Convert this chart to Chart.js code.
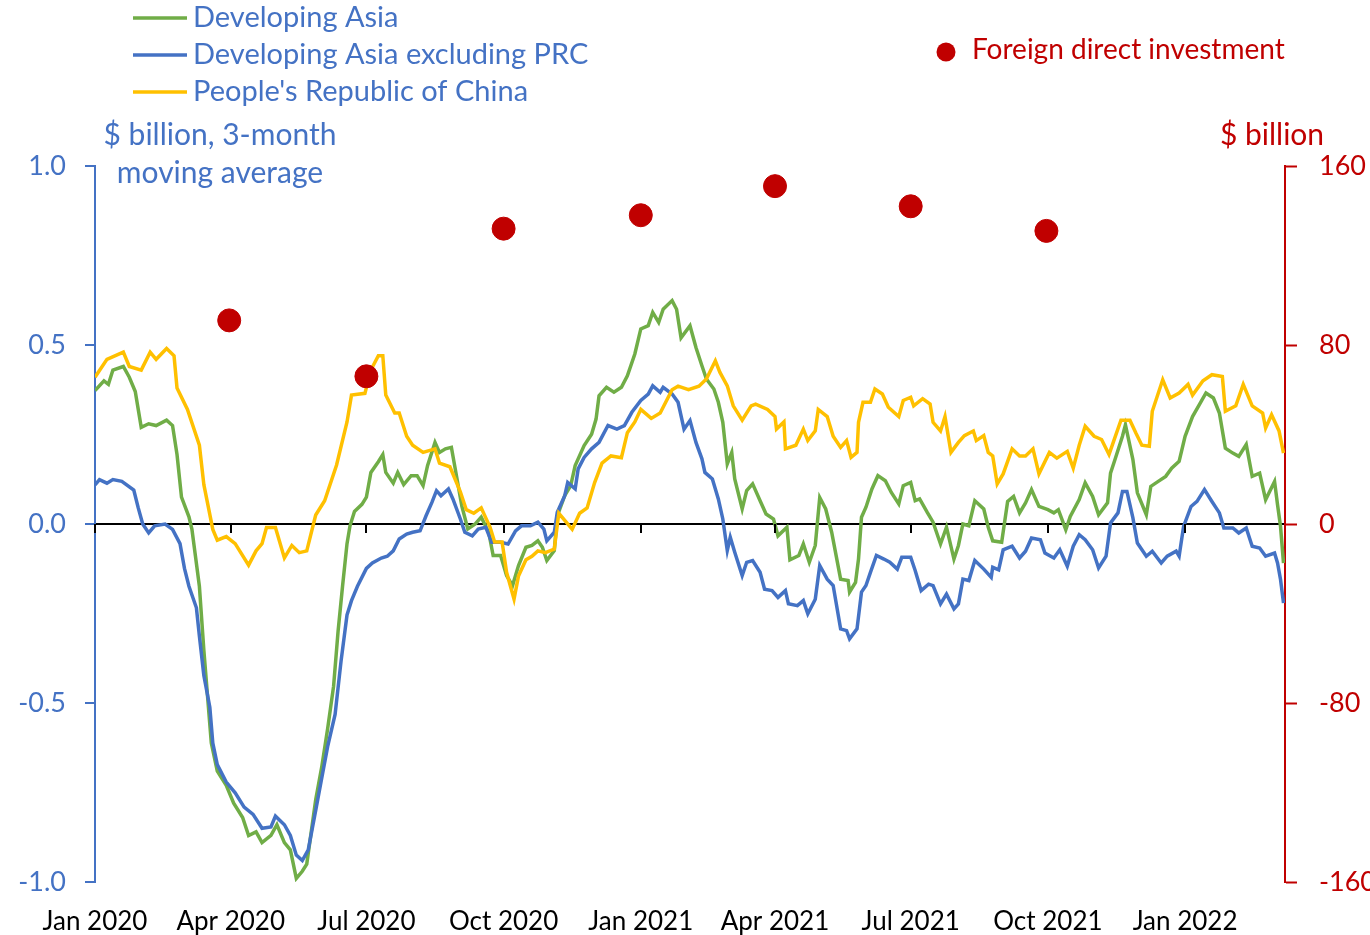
<!DOCTYPE html>
<html>
<head>
<meta charset="utf-8">
<script src="https://cdn.jsdelivr.net/npm/chart.js@4.4.1/dist/chart.umd.min.js"></script>
<style>
html, body { margin: 0; padding: 0; background: #fff; }
#wrap { width: 1370px; height: 935px; }
</style>
</head>
<body>
<div id="wrap"><canvas id="chart" width="1370" height="935"></canvas></div>
<script>
// x values are days since 1 Jan 2020
const quarterDays = [0, 91, 182, 274, 366, 456, 547, 639, 731];
const quarterLabels = ['Jan 2020', 'Apr 2020', 'Jul 2020', 'Oct 2020', 'Jan 2021', 'Apr 2021', 'Jul 2021', 'Oct 2021', 'Jan 2022'];
const leftTicks = [-1, -0.5, 0, 0.5, 1];
const rightTicks = [-160, -80, 0, 80, 160];

// Developing Asia ($ billion, 3-month moving average)
const asiaDays = [0, 6, 9, 12, 19, 23, 27, 31, 36, 41, 48, 52, 55, 58, 63, 65, 70, 73, 78, 82, 88, 93, 99, 103, 108, 112, 118, 122, 127, 131, 135, 139, 142, 148, 152, 156, 160, 163, 166, 169, 171, 174, 179, 182, 185, 190, 193, 195, 200,
  203, 207, 212, 216, 220, 223, 228, 231, 235, 239, 242, 246, 250, 255, 259, 264, 267, 272, 276, 280, 284, 289, 293, 297, 300, 303, 308, 310, 315, 319, 322, 328, 333, 336, 338, 343, 348, 353, 357, 362, 366, 371, 374, 378, 381, 387, 390, 393, 399, 403, 407,
  410, 415, 418, 421, 424, 427, 429, 434, 437, 441, 446, 450, 455, 458, 464, 466, 472, 475, 479, 483, 486, 490, 494, 500, 505, 506, 510, 512, 514, 517, 521, 525, 530, 534, 539, 542, 547, 550, 553, 558, 562, 567, 571, 576, 579, 582, 586, 590, 596, 599, 602, 608,
  612, 616, 620, 624, 628, 633, 639, 643, 646, 651, 654, 660, 664, 669, 673, 679, 681, 684, 689, 691, 696, 699, 705, 708, 713, 718, 722, 727, 731, 736, 740, 745, 750, 754, 758, 763, 767, 772, 776, 781, 785, 791, 793, 795, 797];
const asiaVals = [0.373, 0.40, 0.39, 0.43, 0.44, 0.41, 0.37, 0.27, 0.28, 0.275, 0.29, 0.275, 0.194, 0.075, 0.02, -0.015, -0.174, -0.353, -0.612, -0.69, -0.73, -0.78, -0.82, -0.87, -0.86, -0.89, -0.87, -0.84, -0.89, -0.91, -0.99, -0.97, -0.95, -0.77, -0.68, -0.572, -0.453, -0.30, -0.174, -0.055, -0.005, 0.035, 0.055, 0.075, 0.144, 0.174, 0.194, 0.144, 0.114,
  0.144, 0.11, 0.135, 0.135, 0.107, 0.163, 0.228, 0.20, 0.21, 0.214, 0.144, 0.05, -0.014, 0.0, 0.019, -0.023, -0.088, -0.088, -0.144, -0.172, -0.116, -0.065, -0.06, -0.047, -0.065, -0.102, -0.074, 0.023, 0.079, 0.107, 0.163, 0.219, 0.251, 0.293, 0.358, 0.382, 0.368, 0.382, 0.414, 0.475, 0.545, 0.554, 0.591, 0.563, 0.60, 0.624, 0.60, 0.52, 0.554, 0.493, 0.442,
  0.405, 0.377, 0.34, 0.284, 0.168, 0.20, 0.126, 0.042, 0.093, 0.112, 0.065, 0.028, 0.014, -0.033, -0.009, -0.10, -0.088, -0.056, -0.107, -0.06, 0.074, 0.042, -0.023, -0.154, -0.158, -0.19, -0.163, -0.098, 0.019, 0.047, 0.098, 0.135, 0.121, 0.088, 0.056, 0.107, 0.116, 0.065, 0.07, 0.033, 0.005, -0.056, -0.009, -0.098, -0.06, 0.0, -0.005, 0.065, 0.042, -0.009, -0.047, -0.051,
  0.063, 0.077, 0.031, 0.059, 0.096, 0.049, 0.04, 0.031, 0.04, -0.016, 0.021, 0.068, 0.115, 0.077, 0.026, 0.059, 0.142, 0.18, 0.245, 0.277, 0.18, 0.087, 0.026, 0.105, 0.119, 0.133, 0.156, 0.175, 0.245, 0.30, 0.329, 0.366, 0.352, 0.31, 0.212, 0.198, 0.189, 0.222, 0.133, 0.142, 0.068, 0.119, 0.054, -0.007, -0.109];

// Developing Asia excluding PRC
const exPrcDays = [0, 3, 8, 12, 18, 26, 29, 32, 36, 40, 47, 52, 57, 60, 63, 68, 70, 73, 77, 79, 82, 88, 94, 100, 106, 112, 118, 121, 127, 131, 135, 139, 143, 148, 152, 156, 161, 165, 169, 172, 176, 182, 186, 192, 196, 200,
  204, 209, 213, 218, 222, 226, 229, 232, 237, 240, 245, 248, 253, 257, 262, 266, 272, 277, 282, 286, 292, 297, 301, 303, 308, 310, 315, 317, 322, 324, 328, 333, 338, 344, 350, 355, 360, 366, 371, 374, 379, 381, 387, 391, 395, 399, 403, 407,
  409, 414, 418, 421, 424, 426, 429, 434, 437, 441, 446, 449, 454, 458, 463, 465, 471, 475, 478, 483, 486, 491, 495, 500, 504, 506, 511, 514, 517, 520, 524, 529, 533, 538, 541, 547, 550, 554, 559, 562, 567, 571, 576, 579, 582, 586, 590, 596, 601, 602, 606,
  609, 615, 620, 624, 628, 634, 637, 643, 647, 652, 656, 660, 664, 669, 673, 678, 681, 686, 689, 692, 696, 699, 705, 709, 715, 719, 725, 727, 730, 735, 739, 744, 749, 754, 757, 763, 767, 772, 776, 781, 785, 791, 793, 795, 797];
const exPrcVals = [0.109, 0.124, 0.114, 0.124, 0.119, 0.095, 0.045, 0.0, -0.025, -0.005, 0.0, -0.015, -0.055, -0.124, -0.174, -0.234, -0.313, -0.423, -0.512, -0.612, -0.672, -0.721, -0.751, -0.791, -0.811, -0.85, -0.846, -0.816, -0.84, -0.87, -0.925, -0.94, -0.91, -0.80, -0.711, -0.622, -0.532, -0.383, -0.254, -0.214, -0.174, -0.124, -0.109, -0.095, -0.09, -0.075,
  -0.042, -0.028, -0.023, -0.019, 0.023, 0.061, 0.093, 0.079, 0.098, 0.07, 0.014, -0.023, -0.033, -0.014, -0.009, -0.051, -0.051, -0.056, -0.019, -0.005, -0.005, 0.005, -0.014, -0.047, -0.023, 0.033, 0.079, 0.116, 0.098, 0.154, 0.186, 0.21, 0.228, 0.275, 0.265, 0.275, 0.312, 0.345, 0.363, 0.386, 0.368, 0.382, 0.363, 0.34, 0.265, 0.289, 0.228, 0.182,
  0.144, 0.126, 0.07, 0.014, -0.074, -0.037, -0.079, -0.144, -0.107, -0.102, -0.135, -0.182, -0.186, -0.205, -0.186, -0.223, -0.228, -0.214, -0.251, -0.21, -0.116, -0.154, -0.172, -0.293, -0.298, -0.321, -0.293, -0.19, -0.172, -0.135, -0.088, -0.098, -0.107, -0.126, -0.093, -0.093, -0.13, -0.186, -0.168, -0.172, -0.223, -0.196, -0.237, -0.223, -0.154, -0.158, -0.102, -0.126, -0.149, -0.121, -0.128,
  -0.072, -0.062, -0.095, -0.076, -0.039, -0.044, -0.081, -0.095, -0.072, -0.118, -0.062, -0.03, -0.044, -0.072, -0.123, -0.09, 0.003, 0.031, 0.091, 0.091, 0.017, -0.053, -0.09, -0.076, -0.109, -0.09, -0.076, -0.09, -0.007, 0.049, 0.063, 0.096, 0.063, 0.031, -0.011, -0.011, -0.025, -0.011, -0.062, -0.067, -0.09, -0.081, -0.109, -0.155, -0.221];

// People's Republic of China
const prcDays = [0, 8, 19, 23, 31, 37, 41, 48, 53, 55, 62, 70, 73, 79, 82, 88, 94, 103, 108, 112, 115, 121, 127, 132, 137, 142, 148, 154, 162, 169, 172, 181, 185, 190, 193, 195, 201,
  204, 209, 213, 220, 228, 231, 238, 245, 249, 254, 259, 265, 268, 273, 276, 281, 284, 289, 293, 297, 302, 308, 311, 316, 320, 325, 330, 335, 340, 346, 353, 357, 362, 366, 373, 379, 387, 391, 398, 405,
  410, 416, 419, 424, 428, 434, 440, 443, 451, 456, 457, 462, 463, 470, 475, 478, 483, 485, 491, 495, 500, 504, 507, 511, 512, 515, 520, 523, 528, 532, 539, 542, 547, 549, 555, 560, 562, 567, 570, 574, 579, 583, 589, 591, 596, 599, 602, 605, 609,
  615, 620, 624, 629, 633, 640, 645, 652, 656, 660, 664, 670, 675, 680, 683, 688, 694, 698, 702, 707, 709, 716, 721, 727, 733, 736, 743, 749, 756, 758, 765, 770, 776, 783, 785, 789, 794, 797];
const prcVals = [0.41, 0.46, 0.48, 0.44, 0.43, 0.48, 0.46, 0.49, 0.47, 0.38, 0.32, 0.22, 0.11, -0.015, -0.045, -0.035, -0.055, -0.115, -0.075, -0.055, -0.01, -0.01, -0.095, -0.06, -0.08, -0.075, 0.025, 0.065, 0.165, 0.285, 0.36, 0.365, 0.43, 0.47, 0.47, 0.36, 0.31,
  0.31, 0.245, 0.22, 0.20, 0.21, 0.17, 0.16, 0.09, 0.04, 0.03, 0.045, -0.01, -0.05, -0.05, -0.135, -0.21, -0.145, -0.10, -0.09, -0.075, -0.08, -0.07, 0.03, 0.005, -0.015, 0.03, 0.045, 0.115, 0.17, 0.19, 0.185, 0.255, 0.285, 0.32, 0.295, 0.31, 0.375, 0.385, 0.375, 0.385,
  0.405, 0.456, 0.424, 0.386, 0.33, 0.29, 0.33, 0.335, 0.32, 0.30, 0.265, 0.285, 0.21, 0.22, 0.265, 0.233, 0.26, 0.32, 0.30, 0.245, 0.214, 0.233, 0.186, 0.20, 0.284, 0.34, 0.34, 0.377, 0.363, 0.326, 0.30, 0.345, 0.354, 0.33, 0.35, 0.335, 0.284, 0.26, 0.30, 0.20, 0.228, 0.247, 0.26, 0.233, 0.247, 0.20, 0.19, 0.112, 0.14,
  0.21, 0.19, 0.19, 0.21, 0.14, 0.20, 0.184, 0.203, 0.156, 0.22, 0.273, 0.245, 0.236, 0.194, 0.23, 0.29, 0.29, 0.254, 0.22, 0.217, 0.315, 0.403, 0.352, 0.366, 0.39, 0.36, 0.40, 0.417, 0.412, 0.315, 0.33, 0.39, 0.33, 0.31, 0.268, 0.305, 0.26, 0.198];

// Foreign direct investment, quarterly ($ billion, right axis)
const fdiDays = [90, 182, 274, 366, 456, 547, 638];
const fdiVals = [91, 66, 132, 138, 151, 142, 131];

const BLUE = '#4472C4', GREEN = '#70AD47', GOLD = '#FFC000', RED = '#C00000';
const FONT = 'Lato';

function pts(days, vals) {
  return days.map((d, i) => ({ x: d, y: vals[i] }));
}

// zero line tick marks + legend + axis captions
const decorations = {
  id: 'decorations',
  afterDatasetsDraw(chart) {
    const { ctx, scales } = chart;
    const y0 = scales.y.getPixelForValue(0);
    ctx.save();
    ctx.strokeStyle = '#000';
    ctx.lineWidth = 2;
    quarterDays.forEach(d => {
      const x = Math.round(scales.x.getPixelForValue(d));
      ctx.beginPath();
      ctx.moveTo(x, y0);
      ctx.lineTo(x, y0 + 9);
      ctx.stroke();
    });
    ctx.restore();
  },
  afterDraw(chart) {
    const ctx = chart.ctx;
    ctx.save();
    ctx.textBaseline = 'middle';
    ctx.font = '29px ' + FONT;
    const lineDs = chart.data.datasets.filter(ds => ds.type === 'line');
    lineDs.forEach((ds, i) => {
      const y = 18 + i * 37;
      ctx.strokeStyle = ds.borderColor;
      ctx.lineWidth = 3.5;
      ctx.beginPath();
      ctx.moveTo(133, y);
      ctx.lineTo(187, y);
      ctx.stroke();
      ctx.fillStyle = BLUE;
      ctx.textAlign = 'left';
      ctx.fillText(ds.label, 193, y);
    });
    // FDI legend
    ctx.fillStyle = RED;
    ctx.beginPath();
    ctx.arc(946, 52, 9.5, 0, Math.PI * 2);
    ctx.fill();
    ctx.font = '28px ' + FONT;
    ctx.fillText('Foreign direct investment', 972, 50);
    // axis captions
    ctx.textAlign = 'center';
    ctx.fillStyle = BLUE;
    ctx.font = '30px ' + FONT;
    ctx.fillText('$ billion, 3-month', 220, 135);
    ctx.fillText('moving average', 220, 173);
    ctx.fillStyle = RED;
    ctx.fillText('$ billion', 1272, 135);
    ctx.restore();
  }
};

new Chart(document.getElementById('chart'), {
  data: {
    datasets: [
      { type: 'scatter', label: 'Foreign direct investment', data: pts(fdiDays, fdiVals), yAxisID: 'y2',
        backgroundColor: RED, borderColor: RED, pointRadius: 11.5, pointHoverRadius: 11.5, order: 0 },
      { type: 'line', label: 'Developing Asia', data: pts(asiaDays, asiaVals), borderColor: GREEN,
        borderWidth: 3.5, pointRadius: 0, tension: 0, yAxisID: 'y', order: 3 },
      { type: 'line', label: 'Developing Asia excluding PRC', data: pts(exPrcDays, exPrcVals), borderColor: BLUE,
        borderWidth: 3.5, pointRadius: 0, tension: 0, yAxisID: 'y', order: 2 },
      { type: 'line', label: "People's Republic of China", data: pts(prcDays, prcVals), borderColor: GOLD,
        borderWidth: 3.5, pointRadius: 0, tension: 0, yAxisID: 'y', order: 1 }
    ]
  },
  options: {
    responsive: false,
    devicePixelRatio: 1,
    animation: false,
    layout: { padding: { top: 166, left: 0, right: 0, bottom: 0 } },
    plugins: { legend: { display: false }, tooltip: { enabled: false } },
    scales: {
      x: {
        type: 'linear', min: 0, max: 798,
        afterBuildTicks: s => { s.ticks = quarterDays.map(v => ({ value: v })); },
        afterFit: s => { s.height = 53; },
        grid: { display: false, drawTicks: false },
        border: { display: false },
        ticks: {
          color: '#000', padding: 24, maxRotation: 0, autoSkip: false,
          font: { family: FONT, size: 26 },
          callback: (v, i) => quarterLabels[i]
        }
      },
      y: {
        position: 'left', min: -1, max: 1,
        afterBuildTicks: s => { s.ticks = leftTicks.map(v => ({ value: v })); },
        afterFit: s => { s.width = 95; },
        grid: {
          color: c => (c.tick && c.tick.value === 0) ? '#000' : 'rgba(0,0,0,0)',
          lineWidth: 2, tickColor: BLUE, tickLength: 10, tickWidth: 2
        },
        border: { color: BLUE, width: 2 },
        ticks: { color: BLUE, padding: 19, font: { family: FONT, size: 27 }, callback: v => v.toFixed(1) }
      },
      y2: {
        position: 'right', min: -160, max: 160,
        afterBuildTicks: s => { s.ticks = rightTicks.map(v => ({ value: v })); },
        afterFit: s => { s.width = 85; },
        grid: { drawOnChartArea: false, tickColor: RED, tickLength: 12, tickWidth: 2 },
        border: { color: RED, width: 2 },
        ticks: { color: RED, padding: 22, font: { family: FONT, size: 27 } }
      }
    }
  },
  plugins: [decorations]
});
</script>
</body>
</html>
